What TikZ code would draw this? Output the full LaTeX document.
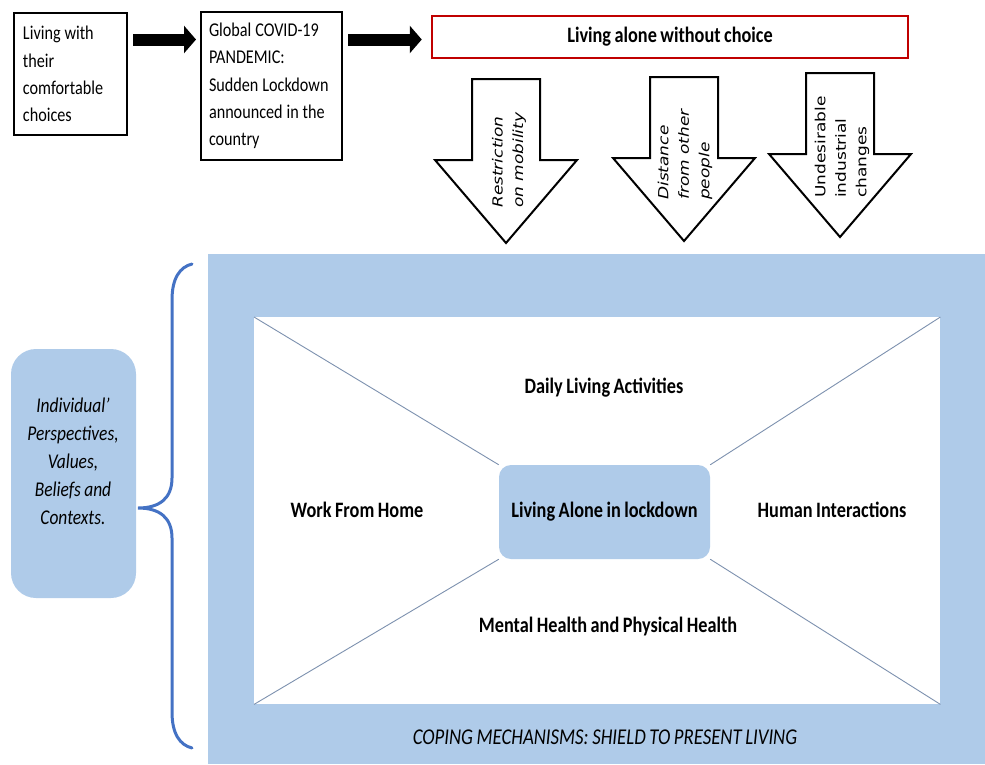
\documentclass[tikz,border=0pt]{standalone}
\usepackage{fontspec}
\setmainfont{Carlito}[FakeStretch=0.83,WordSpace=0.85]
\newfontfamily\arrfont{DejaVu Sans}
\usetikzlibrary{arrows.meta}
\definecolor{lblue}{RGB}{175,203,233}
\definecolor{bracec}{RGB}{68,114,196}
\definecolor{redb}{RGB}{192,0,0}
\definecolor{diagc}{RGB}{125,145,175}
\pgfdeclarelayer{back}
\pgfdeclarelayer{mid}
\pgfsetlayers{back,mid,main}
\begin{document}
\begin{tikzpicture}[x=1pt,y=-1pt,
  boxtxt/.style={draw, line width=2pt, align=left, font=\fontsize{19.5}{27.3}\selectfont, inner xsep=8pt, inner ysep=0pt},
  blockarr/.style={line width=12pt, -{Triangle[length=12pt,width=27pt]}},
  downarr/.pic={\draw[line width=2pt, fill=white, line join=miter] (-34,0) -- (34,0) -- (34,81) -- (71,81) -- (0,164) -- (-71,81) -- (-34,81) -- cycle;},
  arrtxt/.style={rotate=90, yscale=0.82, anchor=west, inner sep=0pt, align=left},
  arrfnt/.style={font=\arrfont\fontsize{17}{25}\selectfont},
  arrfntit/.style={font=\arrfont\itshape\fontsize{17}{25}\selectfont},
  lbl/.style={font=\bfseries\fontsize{22}{26}\selectfont, inner sep=1pt}
]
\useasboundingbox (0,0) rectangle (985,764);

% top flow
\node[boxtxt, text width=95pt, minimum width=113pt, minimum height=122pt] (b1) at (70.5,74) {\spaceskip=3.9pt\relax Living with\\their\\comfortable\\choices};
\node[boxtxt, text width=125pt, minimum width=139pt, minimum height=148pt] (b2) at (271.5,86) {\spaceskip=3.9pt\relax Global COVID-19\\PANDEMIC:\\Sudden Lockdown\\announced in the\\country};
\node[draw=redb, line width=2.5pt, minimum width=476pt, minimum height=42pt, font=\bfseries\fontsize{22}{26}\selectfont] (red) at (670,37) {Living alone without choice};

\coordinate (ay) at (0,39.5);
\draw[blockarr, shorten <=5pt, shorten >=4pt] (b1.east |- ay) -- (b2.west |- ay);
\draw[blockarr, shorten <=5pt, shorten >=9pt] (b2.east |- ay) -- (red.west |- ay);

% down arrows
\pic (pa) at (506,79) {downarr};
\pic (pb) at (684,77) {downarr};
\pic (pc) at (840,73) {downarr};
\node[arrtxt, arrfntit] (ta) at (509,208) {Restriction\\on mobility};
\node[arrtxt, arrfntit] (tb) at (685,200) {Distance\\from other\\people};
\node[arrtxt, arrfnt] (tc) at (842,198) {Undesirable\\industrial\\changes};

% bottom area
\begin{pgfonlayer}{back}
\node[fill=lblue, minimum width=777pt, minimum height=510pt, anchor=north west, inner sep=0pt] (outer) at (208,254) {};
\node[fill=white, minimum width=686pt, minimum height=387pt, anchor=north west, inner sep=0pt] (inner) at (254,317) {};
\end{pgfonlayer}

\node[fill=lblue, rounded corners=12pt, minimum width=211pt, minimum height=94pt, font=\bfseries\fontsize{22}{26}\selectfont] (c) at (604.5,512) {Living Alone in lockdown};

\begin{pgfonlayer}{mid}
\draw[diagc, line width=0.9pt] (inner.north west) -- (c.north west);
\draw[diagc, line width=0.9pt] (inner.north east) -- (c.north east);
\draw[diagc, line width=0.9pt] (inner.south west) -- (c.south west);
\draw[diagc, line width=0.9pt] (inner.south east) -- (c.south east);
\end{pgfonlayer}

\node[lbl] (dla) at (604,388) {Daily Living Activities};
\node[lbl] (wfh) at (357,510) {Work From Home};
\node[lbl] (hi) at (832,510) {Human Interactions};
\node[lbl] (mh) at (608,626) {Mental Health and Physical Health};
\node[font=\itshape\fontsize{22.6}{26}\selectfont] (cop) at (605,737) {COPING MECHANISMS: SHIELD TO PRESENT LIVING};

% left side
\node[fill=lblue, rounded corners=25pt, minimum width=125pt, minimum height=249pt] (lb) at (73.5,473.5) {};
\node[align=center, font=\itshape\fontsize{21}{28}\selectfont] (lbt) at (73,461) {\spaceskip=4pt\relax Individual’\\Perspectives,\\Values,\\Beliefs and\\Contexts.};

\draw[bracec, line width=3pt, line cap=round] (192,264) .. controls (180,267) and (172,278) .. (172,300) -- (172,478) .. controls (172,498) and (160,508) .. (138,508) .. controls (160,508) and (172,518) .. (172,538) -- (172,712) .. controls (172,734) and (180,745) .. (192,748);
\end{tikzpicture}
\end{document}
